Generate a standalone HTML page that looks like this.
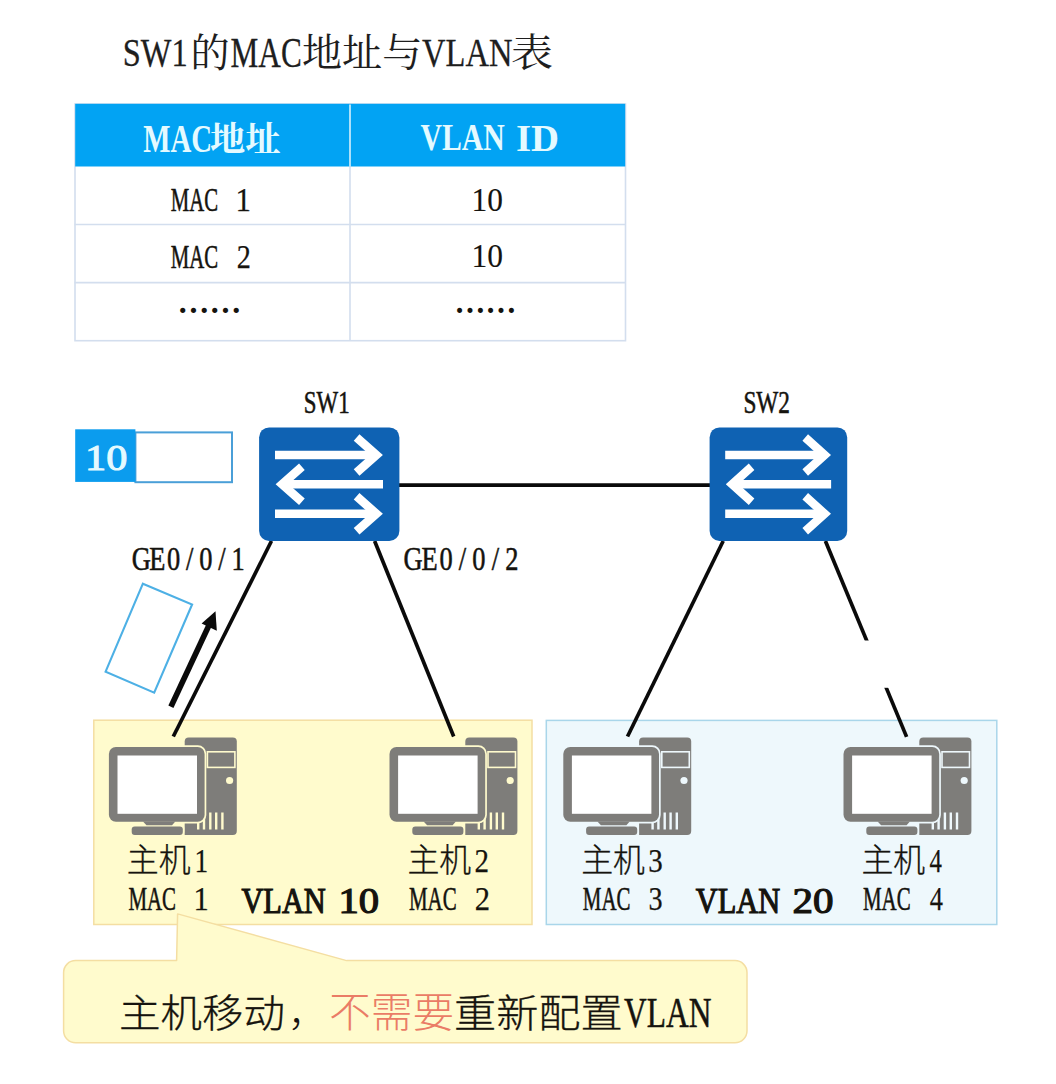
<!DOCTYPE html>
<html lang="zh-CN">
<head>
<meta charset="utf-8">
<title>SW1的MAC地址与VLAN表</title>
<style>
html,body{margin:0;padding:0;background:#fff}
body{width:1056px;height:1084px;overflow:hidden}
svg{display:block}
.sl{font-family:"Liberation Serif",serif}
.ml{font-family:"Liberation Mono",monospace}
.sc{font-family:"Liberation Serif","Noto Serif CJK SC",serif}
.gc{font-family:"Liberation Sans","Noto Sans CJK SC",sans-serif}
</style>
</head>
<body>
<svg width="1056" height="1084" viewBox="0 0 1056 1084">
<rect width="1056" height="1084" fill="#fff"/>
<rect x="75" y="104" width="550.5" height="236.7" fill="#fff" stroke="#d3deee" stroke-width="1.6"/>
<rect x="75.2" y="103.8" width="550" height="62.7" fill="#02a3f3"/>
<path d="M350 104.5V166.5" stroke="#d8f0fb" stroke-width="1.6"/>
<path d="M350 166.5V340.7M74.5 224.5H625.5M74.5 282.6H625.5" stroke="#d3deee" stroke-width="1.6" fill="none"/>
<rect x="93.8" y="720.2" width="438.2" height="204.3" fill="#fffbcd" stroke="#f4dea2" stroke-width="1.5"/>
<rect x="546.3" y="720.4" width="450.5" height="204.1" fill="#eef8fc" stroke="#a9d6ea" stroke-width="1.5"/>
<path d="M75.6 960.6H176.6L177.6 913.9L346.6 960.6H735a12 12 0 0 1 12 12V1030.7a12 12 0 0 1 -12 12H75.6a12 12 0 0 1 -12 -12V972.6a12 12 0 0 1 12 -12z" fill="#fffbcd" stroke="#f4dea2" stroke-width="1.5" stroke-linejoin="round"/>
<g stroke="#0a0a0a" stroke-width="3.7" fill="none">
<path d="M399 485.1H710"/>
<path d="M271.5 541L173.3 736.5"/>
<path d="M374.6 541L453.7 736.5"/>
<path d="M723.2 541L627.5 736.5"/>
<path d="M825.4 541L906.6 736.9"/>
</g>
<rect x="850" y="640.5" width="60" height="47.3" fill="#fff"/>
<g transform="translate(259.1,427.4) scale(1.0000,1)">
<rect x="0" y="0" width="140.3" height="113.6" rx="10" fill="#0f62b3"/>
<path d="M15.9 27.6H117.9" stroke="#fff" stroke-width="8.6" fill="none"/>
<path d="M97.5 10.1L117.3 27.6L97.5 45.1" stroke="#fff" stroke-width="8.6" fill="none" stroke-linejoin="miter"/>
<path d="M123.9 56.9H22.4" stroke="#fff" stroke-width="8.6" fill="none"/>
<path d="M42.8 39.4L23.0 56.9L42.8 74.4" stroke="#fff" stroke-width="8.6" fill="none" stroke-linejoin="miter"/>
<path d="M15.9 86.4H117.9" stroke="#fff" stroke-width="8.6" fill="none"/>
<path d="M97.5 68.9L117.3 86.4L97.5 103.9" stroke="#fff" stroke-width="8.6" fill="none" stroke-linejoin="miter"/>
</g>
<g transform="translate(709.6,427.4) scale(0.9808,1)">
<rect x="0" y="0" width="140.3" height="113.6" rx="10" fill="#0f62b3"/>
<path d="M15.9 27.6H117.9" stroke="#fff" stroke-width="8.6" fill="none"/>
<path d="M97.5 10.1L117.3 27.6L97.5 45.1" stroke="#fff" stroke-width="8.6" fill="none" stroke-linejoin="miter"/>
<path d="M123.9 56.9H22.4" stroke="#fff" stroke-width="8.6" fill="none"/>
<path d="M42.8 39.4L23.0 56.9L42.8 74.4" stroke="#fff" stroke-width="8.6" fill="none" stroke-linejoin="miter"/>
<path d="M15.9 86.4H117.9" stroke="#fff" stroke-width="8.6" fill="none"/>
<path d="M97.5 68.9L117.3 86.4L97.5 103.9" stroke="#fff" stroke-width="8.6" fill="none" stroke-linejoin="miter"/>
</g>
<rect x="135.4" y="432.4" width="96.6" height="49.8" fill="#fff" stroke="#4a9fd8" stroke-width="2"/>
<rect x="75.2" y="429.3" width="60.2" height="52.6" fill="#0b9cee"/>
<path d="M142.9 583.7L192.1 604.5L154.2 692.6L105.6 671.7z" fill="#fff" stroke="#4db0e5" stroke-width="2.1"/>
<path d="M170.9 706.8L209.8 623.5" stroke="#0a0a0a" stroke-width="5.6" fill="none"/>
<path d="M215.5 611.3L216.8 630.8L201.6 623.6z" fill="#0a0a0a"/>
<g transform="translate(0.0,0)">
<path d="M188.7 737.5H232.8a4 4 0 0 1 4 4V831a4 4 0 0 1-4 4H184.7V741.5a4 4 0 0 1 4-4z" fill="#7e7d7a"/>
<rect x="207.4" y="751.8" width="27.5" height="15.6" fill="none" stroke="#fffbcd" stroke-width="1.6"/>
<circle cx="229.6" cy="780.5" r="3.6" fill="#fffbcd"/>
<rect x="197.0" y="822.5" width="2.4" height="7.0" fill="#fffbcd"/>
<rect x="202.8" y="817.5" width="2.4" height="12.0" fill="#fffbcd"/>
<rect x="209.1" y="812.5" width="2.4" height="17.0" fill="#fffbcd"/>
<rect x="215.0" y="812.5" width="2.4" height="17.0" fill="#fffbcd"/>
<rect x="221.2" y="812.5" width="2.4" height="17.0" fill="#fffbcd"/>
<rect x="107.2" y="745.2" width="99.1" height="78.2" rx="8.5" fill="#fffbcd"/>
<rect x="108.9" y="746.9" width="95.7" height="74.8" rx="7" fill="#7e7d7a"/>
<rect x="117.5" y="755.5" width="79.5" height="58.3" fill="#fff"/>
<rect x="130.2" y="825" width="54.1" height="10" rx="3" fill="#fffbcd"/>
<path d="M143 821.5H175.3L172 825.3H146.5z" fill="#7e7d7a"/>
<rect x="131.7" y="826.6" width="51.1" height="8.4" rx="3" fill="#7e7d7a"/>
</g>
<g transform="translate(280.6,0)">
<path d="M188.7 737.5H232.8a4 4 0 0 1 4 4V831a4 4 0 0 1-4 4H184.7V741.5a4 4 0 0 1 4-4z" fill="#7e7d7a"/>
<rect x="207.4" y="751.8" width="27.5" height="15.6" fill="none" stroke="#fffbcd" stroke-width="1.6"/>
<circle cx="229.6" cy="780.5" r="3.6" fill="#fffbcd"/>
<rect x="197.0" y="822.5" width="2.4" height="7.0" fill="#fffbcd"/>
<rect x="202.8" y="817.5" width="2.4" height="12.0" fill="#fffbcd"/>
<rect x="209.1" y="812.5" width="2.4" height="17.0" fill="#fffbcd"/>
<rect x="215.0" y="812.5" width="2.4" height="17.0" fill="#fffbcd"/>
<rect x="221.2" y="812.5" width="2.4" height="17.0" fill="#fffbcd"/>
<rect x="107.2" y="745.2" width="99.1" height="78.2" rx="8.5" fill="#fffbcd"/>
<rect x="108.9" y="746.9" width="95.7" height="74.8" rx="7" fill="#7e7d7a"/>
<rect x="117.5" y="755.5" width="79.5" height="58.3" fill="#fff"/>
<rect x="130.2" y="825" width="54.1" height="10" rx="3" fill="#fffbcd"/>
<path d="M143 821.5H175.3L172 825.3H146.5z" fill="#7e7d7a"/>
<rect x="131.7" y="826.6" width="51.1" height="8.4" rx="3" fill="#7e7d7a"/>
</g>
<g transform="translate(454.4,0)">
<path d="M188.7 737.5H232.8a4 4 0 0 1 4 4V831a4 4 0 0 1-4 4H184.7V741.5a4 4 0 0 1 4-4z" fill="#7e7d7a"/>
<rect x="207.4" y="751.8" width="27.5" height="15.6" fill="none" stroke="#eef8fc" stroke-width="1.6"/>
<circle cx="229.6" cy="780.5" r="3.6" fill="#eef8fc"/>
<rect x="197.0" y="822.5" width="2.4" height="7.0" fill="#eef8fc"/>
<rect x="202.8" y="817.5" width="2.4" height="12.0" fill="#eef8fc"/>
<rect x="209.1" y="812.5" width="2.4" height="17.0" fill="#eef8fc"/>
<rect x="215.0" y="812.5" width="2.4" height="17.0" fill="#eef8fc"/>
<rect x="221.2" y="812.5" width="2.4" height="17.0" fill="#eef8fc"/>
<rect x="107.2" y="745.2" width="99.1" height="78.2" rx="8.5" fill="#eef8fc"/>
<rect x="108.9" y="746.9" width="95.7" height="74.8" rx="7" fill="#7e7d7a"/>
<rect x="117.5" y="755.5" width="79.5" height="58.3" fill="#fff"/>
<rect x="130.2" y="825" width="54.1" height="10" rx="3" fill="#eef8fc"/>
<path d="M143 821.5H175.3L172 825.3H146.5z" fill="#7e7d7a"/>
<rect x="131.7" y="826.6" width="51.1" height="8.4" rx="3" fill="#7e7d7a"/>
</g>
<g transform="translate(734.6,0)">
<path d="M188.7 737.5H232.8a4 4 0 0 1 4 4V831a4 4 0 0 1-4 4H184.7V741.5a4 4 0 0 1 4-4z" fill="#7e7d7a"/>
<rect x="207.4" y="751.8" width="27.5" height="15.6" fill="none" stroke="#eef8fc" stroke-width="1.6"/>
<circle cx="229.6" cy="780.5" r="3.6" fill="#eef8fc"/>
<rect x="197.0" y="822.5" width="2.4" height="7.0" fill="#eef8fc"/>
<rect x="202.8" y="817.5" width="2.4" height="12.0" fill="#eef8fc"/>
<rect x="209.1" y="812.5" width="2.4" height="17.0" fill="#eef8fc"/>
<rect x="215.0" y="812.5" width="2.4" height="17.0" fill="#eef8fc"/>
<rect x="221.2" y="812.5" width="2.4" height="17.0" fill="#eef8fc"/>
<rect x="107.2" y="745.2" width="99.1" height="78.2" rx="8.5" fill="#eef8fc"/>
<rect x="108.9" y="746.9" width="95.7" height="74.8" rx="7" fill="#7e7d7a"/>
<rect x="117.5" y="755.5" width="79.5" height="58.3" fill="#fff"/>
<rect x="130.2" y="825" width="54.1" height="10" rx="3" fill="#eef8fc"/>
<path d="M143 821.5H175.3L172 825.3H146.5z" fill="#7e7d7a"/>
<rect x="131.7" y="826.6" width="51.1" height="8.4" rx="3" fill="#7e7d7a"/>
</g>
<text><tspan class="sl" x="122.8" y="66.0" font-size="39.9" font-weight="400" fill="#1e1e1e" stroke="#1e1e1e" stroke-width="0.3" textLength="64.9" lengthAdjust="spacingAndGlyphs">SW1</tspan><tspan class="sc" x="190.6" y="67.0" font-size="40.0" font-weight="400" fill="#1e1e1e" textLength="39.1" lengthAdjust="spacingAndGlyphs">的</tspan><tspan class="sl" x="230.6" y="67.0" font-size="41.3" font-weight="400" fill="#1e1e1e" stroke="#1e1e1e" stroke-width="0.3" textLength="71.1" lengthAdjust="spacingAndGlyphs">MAC</tspan><tspan class="sc" x="302.0" y="66.0" font-size="38.9" font-weight="400" fill="#1e1e1e" textLength="120.2" lengthAdjust="spacingAndGlyphs">地址与</tspan><tspan class="sl" x="422.0" y="66.0" font-size="39.9" font-weight="400" fill="#1e1e1e" stroke="#1e1e1e" stroke-width="0.3" textLength="90.4" lengthAdjust="spacingAndGlyphs">VLAN</tspan><tspan class="sc" x="511.0" y="66.0" font-size="38.3" font-weight="400" fill="#1e1e1e" textLength="42.0" lengthAdjust="spacingAndGlyphs">表</tspan></text>
<text><tspan class="sl" x="143.2" y="151.6" font-size="39.4" font-weight="700" fill="#e4faff" textLength="68.8" lengthAdjust="spacingAndGlyphs">MAC</tspan><tspan class="sc" x="210.0" y="151.0" font-size="33.9" font-weight="700" fill="#e4faff" textLength="70.4" lengthAdjust="spacingAndGlyphs">地址</tspan></text>
<text><tspan class="sl" x="420.4" y="149.6" font-size="38.9" font-weight="700" fill="#e4faff" textLength="84.4" lengthAdjust="spacingAndGlyphs">VLAN</tspan> <tspan class="sl" x="516.0" y="150.6" font-size="38.9" font-weight="700" fill="#e4faff" textLength="43.1" lengthAdjust="spacingAndGlyphs">ID</tspan></text>
<text><tspan class="sl" x="170.8" y="211.4" font-size="33.8" font-weight="400" fill="#15130e" stroke="#15130e" stroke-width="0.55" textLength="47.3" lengthAdjust="spacingAndGlyphs">MAC</tspan> <tspan class="sl" x="235.6" y="211.4" font-size="33.8" font-weight="400" fill="#15130e" stroke="#15130e" stroke-width="0.25" textLength="15.5" lengthAdjust="spacingAndGlyphs">1</tspan></text>
<text class="sl" x="471.6" y="210.8" font-size="33.8" font-weight="400" fill="#15130e" stroke="#15130e" stroke-width="0.15" textLength="31.4" lengthAdjust="spacingAndGlyphs">10</text>
<text><tspan class="sl" x="170.8" y="267.6" font-size="32.8" font-weight="400" fill="#15130e" stroke="#15130e" stroke-width="0.55" textLength="47.4" lengthAdjust="spacingAndGlyphs">MAC</tspan> <tspan class="sl" x="236.8" y="267.6" font-size="32.8" font-weight="400" fill="#15130e" stroke="#15130e" stroke-width="0.25" textLength="14.1" lengthAdjust="spacingAndGlyphs">2</tspan></text>
<text class="sl" x="471.6" y="267.2" font-size="34.7" font-weight="400" fill="#15130e" stroke="#15130e" stroke-width="0.15" textLength="31.5" lengthAdjust="spacingAndGlyphs">10</text>
<text class="sc" x="177.5" y="312.9" font-size="31.9" font-weight="900" fill="#15130e">……</text>
<text class="sc" x="454.5" y="312.9" font-size="30.9" font-weight="900" fill="#15130e">……</text>
<text class="sl" x="303.8" y="413.2" font-size="31.4" font-weight="400" fill="#15130e" stroke="#15130e" stroke-width="0.55" textLength="45.8" lengthAdjust="spacingAndGlyphs">SW1</text>
<text class="sl" x="743.4" y="413.2" font-size="31.4" font-weight="400" fill="#15130e" stroke="#15130e" stroke-width="0.55" textLength="46.6" lengthAdjust="spacingAndGlyphs">SW2</text>
<text class="sl" x="85.0" y="470.0" font-size="35.6" font-weight="400" fill="#e4faff" stroke="#e4faff" stroke-width="1.0" textLength="42.3" lengthAdjust="spacingAndGlyphs">10</text>
<text class="sl" transform="translate(0,570.2) scale(0.8,1)" x="164.6 186.6 208.7 232.5 249.1 272.9 289.5" y="0" font-size="33.0" fill="#15130e" stroke="#15130e" stroke-width="0.55">GE0/0/1</text>
<text class="sl" transform="translate(0,570.2) scale(0.8,1)" x="504.5 526.9 549.3 573.5 590.4 614.6 631.5" y="0" font-size="33.0" fill="#15130e" stroke="#15130e" stroke-width="0.55">GE0/0/2</text>
<text><tspan class="gc" x="126.8" y="872.2" font-size="32.9" font-weight="300" fill="#15130e" stroke="#15130e" stroke-width="0.3" textLength="63.7" lengthAdjust="spacingAndGlyphs">主机</tspan><tspan class="sl" x="194.6" y="872.0" font-size="33.2" font-weight="400" fill="#15130e" stroke="#15130e" stroke-width="0.25" textLength="13.7" lengthAdjust="spacingAndGlyphs">1</tspan></text>
<text><tspan class="sl" x="128.4" y="909.6" font-size="33.8" font-weight="400" fill="#15130e" stroke="#15130e" stroke-width="0.55" textLength="47.7" lengthAdjust="spacingAndGlyphs">MAC</tspan> <tspan class="sl" x="193.6" y="909.6" font-size="33.8" font-weight="400" fill="#15130e" stroke="#15130e" stroke-width="0.25" textLength="15.3" lengthAdjust="spacingAndGlyphs">1</tspan></text>
<text><tspan class="sl" x="241.4" y="912.8" font-size="36.2" font-weight="400" fill="#15130e" stroke="#15130e" stroke-width="1.2" textLength="84.4" lengthAdjust="spacingAndGlyphs">VLAN</tspan> <tspan class="sl" x="338.4" y="912.8" font-size="36.2" font-weight="400" fill="#15130e" stroke="#15130e" stroke-width="1.2" textLength="40.6" lengthAdjust="spacingAndGlyphs">10</tspan></text>
<text><tspan class="gc" x="407.4" y="872.2" font-size="32.9" font-weight="300" fill="#15130e" stroke="#15130e" stroke-width="0.3" textLength="63.7" lengthAdjust="spacingAndGlyphs">主机</tspan><tspan class="sl" x="474.4" y="872.0" font-size="33.2" font-weight="400" fill="#15130e" stroke="#15130e" stroke-width="0.25" textLength="14.5" lengthAdjust="spacingAndGlyphs">2</tspan></text>
<text><tspan class="sl" x="409.0" y="909.6" font-size="33.8" font-weight="400" fill="#15130e" stroke="#15130e" stroke-width="0.55" textLength="47.7" lengthAdjust="spacingAndGlyphs">MAC</tspan> <tspan class="sl" x="474.8" y="909.6" font-size="33.8" font-weight="400" fill="#15130e" stroke="#15130e" stroke-width="0.25" textLength="15.3" lengthAdjust="spacingAndGlyphs">2</tspan></text>
<text><tspan class="gc" x="581.2" y="872.2" font-size="32.9" font-weight="300" fill="#15130e" stroke="#15130e" stroke-width="0.3" textLength="63.7" lengthAdjust="spacingAndGlyphs">主机</tspan><tspan class="sl" x="648.2" y="872.0" font-size="33.2" font-weight="400" fill="#15130e" stroke="#15130e" stroke-width="0.25" textLength="14.5" lengthAdjust="spacingAndGlyphs">3</tspan></text>
<text><tspan class="sl" x="582.8" y="909.6" font-size="33.8" font-weight="400" fill="#15130e" stroke="#15130e" stroke-width="0.55" textLength="47.7" lengthAdjust="spacingAndGlyphs">MAC</tspan> <tspan class="sl" x="648.6" y="909.6" font-size="33.8" font-weight="400" fill="#15130e" stroke="#15130e" stroke-width="0.25" textLength="14.1" lengthAdjust="spacingAndGlyphs">3</tspan></text>
<text><tspan class="sl" x="695.8" y="912.8" font-size="36.2" font-weight="400" fill="#15130e" stroke="#15130e" stroke-width="1.2" textLength="84.4" lengthAdjust="spacingAndGlyphs">VLAN</tspan> <tspan class="sl" x="792.4" y="912.8" font-size="36.2" font-weight="400" fill="#15130e" stroke="#15130e" stroke-width="1.2" textLength="41.0" lengthAdjust="spacingAndGlyphs">20</tspan></text>
<text><tspan class="gc" x="861.4" y="872.2" font-size="32.9" font-weight="300" fill="#15130e" stroke="#15130e" stroke-width="0.3" textLength="63.7" lengthAdjust="spacingAndGlyphs">主机</tspan><tspan class="sl" x="929.4" y="872.0" font-size="33.2" font-weight="400" fill="#15130e" stroke="#15130e" stroke-width="0.25" textLength="12.4" lengthAdjust="spacingAndGlyphs">4</tspan></text>
<text><tspan class="sl" x="863.0" y="909.6" font-size="33.8" font-weight="400" fill="#15130e" stroke="#15130e" stroke-width="0.55" textLength="47.7" lengthAdjust="spacingAndGlyphs">MAC</tspan> <tspan class="sl" x="929.8" y="909.6" font-size="33.8" font-weight="400" fill="#15130e" stroke="#15130e" stroke-width="0.25" textLength="13.2" lengthAdjust="spacingAndGlyphs">4</tspan></text>
<text><tspan class="gc" x="119.0" y="1027.2" font-size="39.1" font-weight="300" fill="#15130e" stroke="#15130e" stroke-width="0.3" textLength="166.0" lengthAdjust="spacingAndGlyphs">主机移动</tspan><tspan class="gc" x="288.0" y="1025.8" font-size="38.0" font-weight="300" fill="#15130e">，</tspan><tspan class="gc" x="329.0" y="1027.2" font-size="40.6" font-weight="300" fill="#ea7c66" textLength="125.4" lengthAdjust="spacingAndGlyphs">不需要</tspan><tspan class="gc" x="454.0" y="1026.6" font-size="38.9" font-weight="300" fill="#15130e" stroke="#15130e" stroke-width="0.3" textLength="168.7" lengthAdjust="spacingAndGlyphs">重新配置</tspan><tspan class="sl" x="624.0" y="1027.2" font-size="42.5" font-weight="400" fill="#15130e" stroke="#15130e" stroke-width="0.55" textLength="87.4" lengthAdjust="spacingAndGlyphs">VLAN</tspan></text>
</svg>
</body>
</html>
